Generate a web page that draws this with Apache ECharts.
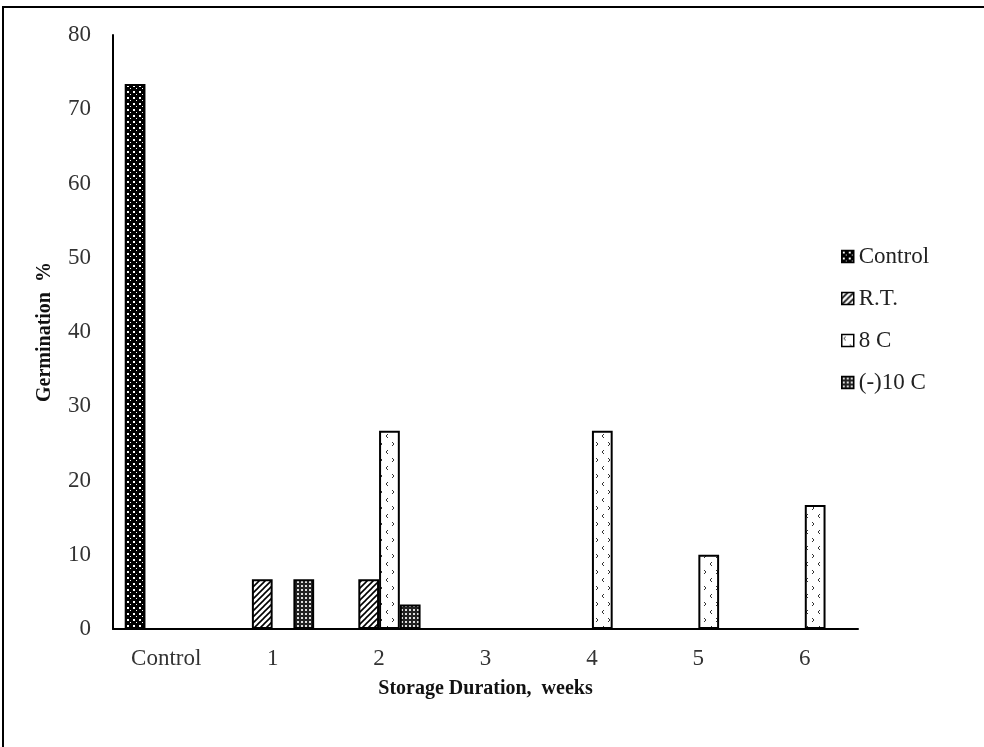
<!DOCTYPE html>
<html>
<head>
<meta charset="utf-8">
<script src="https://cdn.jsdelivr.net/npm/echarts@6/dist/echarts.min.js"></script>
<style>html,body{margin:0;padding:0;background:#fff}#c{width:984px;height:747px}</style>
</head>
<body>
<div id="c"></div>
<script>
const categories = ['Control', '1', '2', '3', '4', '5', '6'];
const seriesNames = ['Control', 'R.T.', '8 C', '(-)10 C'];
const controlValues = [73.4, null, null, null, null, null, null];
const rtValues = [null, 6.7, 6.7, 0, 0, 0, 0];
const c8Values = [null, 0, 26.7, 0, 26.7, 10, 16.7];
const cm10Values = [null, 6.7, 3.3, 0, 0, 0, 0];
const yTicks = {min: 0, max: 80, interval: 10};

function mk(w, h, draw) {
  const c = document.createElement('canvas');
  c.width = w; c.height = h;
  const g = c.getContext('2d');
  draw(g);
  return {image: c, repeat: 'repeat'};
}
const patControl = mk(6, 6, g => {
  g.fillStyle = '#000'; g.fillRect(0, 0, 6, 6);
  g.fillStyle = '#fff'; g.fillRect(1, 1, 2, 2); g.fillRect(4, 4, 1, 1);
});
const patRT = mk(6, 6, g => {
  g.fillStyle = '#fff'; g.fillRect(0, 0, 6, 6);
  g.strokeStyle = '#000'; g.lineWidth = 1.6;
  g.beginPath(); g.moveTo(-1, 7); g.lineTo(7, -1); g.stroke();
  g.beginPath(); g.moveTo(-1, 1); g.lineTo(1, -1); g.stroke();
  g.beginPath(); g.moveTo(5, 7); g.lineTo(7, 5); g.stroke();
});
const pat8 = mk(12, 16, g => {
  g.fillStyle = '#fff'; g.fillRect(0, 0, 12, 16);
  g.strokeStyle = '#333'; g.lineWidth = 1;
  g.beginPath(); g.moveTo(4, 2); g.lineTo(2, 4); g.lineTo(4, 6); g.stroke();
  g.beginPath(); g.moveTo(8, 10); g.lineTo(10, 12); g.lineTo(8, 14); g.stroke();
});
const patM10 = mk(4, 4, g => {
  g.fillStyle = '#222'; g.fillRect(0, 0, 4, 4);
  g.fillStyle = '#ddd'; g.fillRect(1, 1, 2, 2);
});
const pats = [patControl, patRT, pat8, patM10];
const vals = [controlValues, rtValues, c8Values, cm10Values];

const font = 'Liberation Serif';
const chart = echarts.init(document.getElementById('c'), null, {renderer: 'canvas'});
chart.setOption({
  animation: false,
  backgroundColor: '#fff',
  graphic: [{
    type: 'rect', shape: {x: 3, y: 7, width: 1000, height: 800},
    style: {fill: 'none', stroke: '#000', lineWidth: 2}, z: 100
  }],
  grid: {left: 113, right: 126, top: 35, bottom: 118},
  legend: {
    orient: 'vertical', left: 836, top: 240, itemWidth: 12, itemHeight: 12,
    itemGap: 19, icon: 'rect', itemStyle: {borderColor: '#000', borderWidth: 1.5},
    data: seriesNames,
    textStyle: {fontFamily: font, fontSize: 23, color: '#222', lineHeight: 23}
  },
  xAxis: {
    type: 'category', data: categories,
    name: 'Storage Duration,  weeks', nameLocation: 'middle', nameGap: 50,
    nameTextStyle: {fontFamily: font, fontSize: 20, fontWeight: 'bold', color: '#111'},
    axisLine: {lineStyle: {color: '#000', width: 2}},
    axisTick: {show: false},
    axisLabel: {fontFamily: font, fontSize: 23, color: '#333', margin: 18}
  },
  yAxis: {
    type: 'value', min: yTicks.min, max: yTicks.max, interval: yTicks.interval,
    name: 'Germination  %', nameLocation: 'middle', nameGap: 58, nameRotate: 90,
    nameTextStyle: {fontFamily: font, fontSize: 20, fontWeight: 'bold', color: '#111'},
    axisLine: {show: true, lineStyle: {color: '#000', width: 2}},
    axisTick: {show: false},
    splitLine: {show: false},
    axisLabel: {fontFamily: font, fontSize: 23, color: '#333', margin: 22}
  },
  series: seriesNames.map((n, i) => ({
    name: n, type: 'bar', data: vals[i],
    barGap: '0%', barCategoryGap: '22%',
    itemStyle: {color: pats[i], borderColor: '#000', borderWidth: 2}
  }))
});
</script>
</body>
</html>
